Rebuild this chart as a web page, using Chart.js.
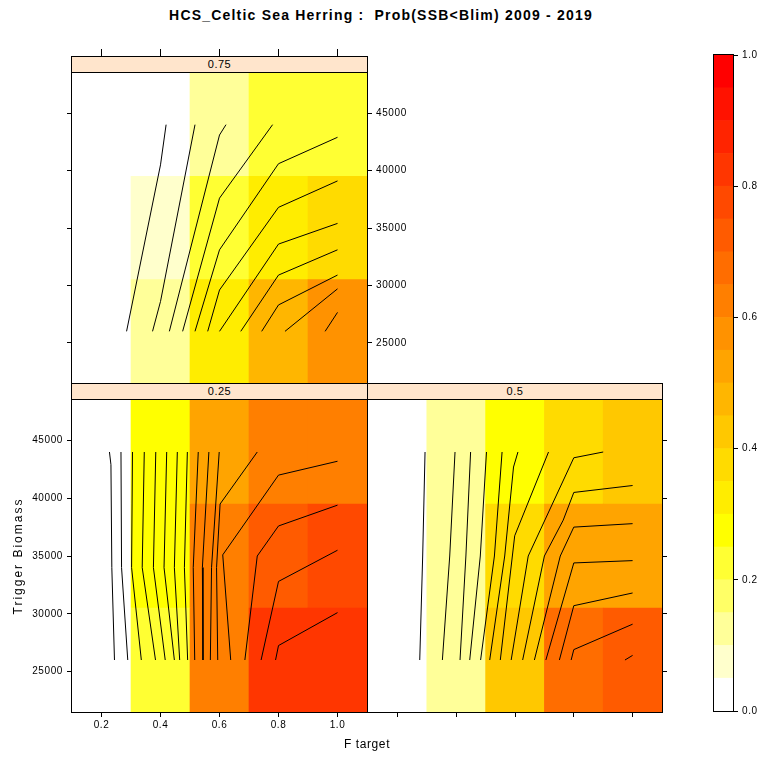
<!DOCTYPE html>
<html>
<head>
<meta charset="utf-8">
<script src="https://cdn.jsdelivr.net/npm/chart.js@4.4.1/dist/chart.umd.min.js"></script>
<style>
  body { margin: 0; background: #fff; }
  #wrap { position: relative; width: 762px; height: 758px; overflow: hidden; font-family: "Liberation Sans", Arial, sans-serif; color: #000; }
  canvas { position: absolute; }
  .strip { position: absolute; box-sizing: border-box; height: 17px; background: #ffe5cc; border: 1px solid #000; font-size: 11px; line-height: 15px; text-align: center; letter-spacing: 0.5px; z-index: 2; }
  .lbl { position: absolute; white-space: pre; text-align: center; }
</style>
</head>
<body>
<div id="wrap">
  <canvas id="p075" width="389" height="358" style="left:50px;top:37px"></canvas>
  <canvas id="p025" width="379" height="361" style="left:0px;top:388px"></canvas>
  <canvas id="p05" width="328" height="346" style="left:356px;top:388px"></canvas>
  <canvas id="key" width="73" height="680" style="left:702px;top:43px"></canvas>

  <div class="strip" style="left:71px;top:56px;width:297px">0.75</div>
  <div class="strip" style="left:71px;top:383px;width:297px">0.25</div>
  <div class="strip" style="left:367px;top:383px;width:296px">0.5</div>

  <div class="lbl" style="left:0;top:7px;width:762px;font-size:14px;font-weight:bold;line-height:16px;letter-spacing:1.2px">HCS_Celtic Sea Herring :  Prob(SSB&lt;Blim) 2009 - 2019</div>
  <div class="lbl" style="left:267px;top:737px;width:200px;font-size:12px;line-height:14px;letter-spacing:0.6px">F target</div>
  <div class="lbl" style="left:-82px;top:548px;width:200px;font-size:12px;line-height:16px;letter-spacing:2px;transform:rotate(-90deg)">Trigger Biomass</div>
</div>

<script>
// grid of the levelplot
const fTarget = [0.2, 0.4, 0.6, 0.8, 1.0];
const trigger = [26000, 35000, 44000];
const xTicks = [0.2, 0.4, 0.6, 0.8, 1.0];
const yTicks = [25000, 30000, 35000, 40000, 45000];
const keyTicks = [0.0, 0.2, 0.4, 0.6, 0.8, 1.0];
const levels = [0, 0.05, 0.1, 0.15, 0.2, 0.25, 0.3, 0.35, 0.4, 0.45, 0.5,
  0.55, 0.6, 0.65, 0.7, 0.75, 0.8, 0.85, 0.9, 0.95, 1.0];

// Prob(SSB<Blim), one row per trigger biomass (26000, 35000, 44000)
const prob075 = [
  [0.01, 0.11, 0.34, 0.48, 0.56],
  [0.01, 0.07, 0.22, 0.33, 0.37],
  [0.01, 0.04, 0.14, 0.22, 0.24],
];
const prob025 = [
  [0.02, 0.23, 0.61, 0.80, 0.84],
  [0.02, 0.27, 0.62, 0.73, 0.76],
  [0.02, 0.28, 0.54, 0.63, 0.64],
];
const prob05 = [
  [0.02, 0.13, 0.42, 0.66, 0.71],
  [0.02, 0.12, 0.37, 0.54, 0.54],
  [0.02, 0.10, 0.29, 0.39, 0.43],
];

// contour lines, [F target, trigger biomass] vertices
const cont075 = [
  [[0.285, 26000], [0.4, 40500], [0.419, 44000]],
  [[0.373, 26000], [0.4, 28600], [0.517, 44000]],
  [[0.43, 26000], [0.6, 43100], [0.622, 44000]],
  [[0.475, 26000], [0.6, 37600], [0.78, 44000]],
  [[0.517, 26000], [0.6, 33100], [0.8, 40600], [1.0, 42900]],
  [[0.56, 26000], [0.6, 29600], [0.8, 36800], [1.0, 39100]],
  [[0.6, 26000], [0.8, 33600], [1.0, 35400]],
  [[0.672, 26000], [0.8, 30900], [1.0, 33100]],
  [[0.743, 26000], [0.8, 28300], [1.0, 30900]],
  [[0.822, 26000], [1.0, 29700]],
  [[0.958, 26000], [1.0, 27650]],
];
const cont025 = [
  [[0.227, 44000], [0.232, 42900], [0.235, 34000], [0.244, 26000]],
  [[0.266, 44000], [0.268, 34000], [0.289, 26000]],
  [[0.305, 44000], [0.302, 34000], [0.335, 26000]],
  [[0.345, 44000], [0.338, 34000], [0.383, 26000]],
  [[0.384, 44000], [0.376, 34000], [0.416, 26000]],
  [[0.421, 44000], [0.412, 34000], [0.447, 26000]],
  [[0.457, 44000], [0.447, 34000], [0.465, 26000]],
  [[0.491, 44000], [0.481, 34000], [0.492, 26000]],
  [[0.528, 44000], [0.511, 34000], [0.516, 26000]],
  [[0.564, 44000], [0.542, 34000], [0.544, 26000]],
  [[0.599, 44000], [0.573, 34000], [0.569, 26000]],
  [[0.728, 44000], [0.602, 39500], [0.59, 34000], [0.594, 26000]],
  [[1.0, 43200], [0.8, 42000], [0.611, 35100], [0.638, 26000]],
  [[1.0, 39400], [0.8, 37600], [0.728, 35000], [0.686, 26000]],
  [[1.0, 35500], [0.8, 32800], [0.741, 26000]],
  [[1.0, 30100], [0.8, 27250], [0.79, 26000]],
];
const cont05 = [
  [[0.294, 44000], [0.286, 35000], [0.276, 26000]],
  [[0.396, 44000], [0.378, 35000], [0.353, 26000]],
  [[0.449, 44000], [0.433, 35000], [0.413, 26000]],
  [[0.503, 44000], [0.482, 35000], [0.446, 26000]],
  [[0.556, 44000], [0.53, 35000], [0.483, 26000]],
  [[0.61, 44000], [0.595, 42700], [0.565, 35000], [0.514, 26000]],
  [[0.714, 44000], [0.599, 36750], [0.55, 26000]],
  [[0.9, 44000], [0.8, 43500], [0.645, 35000], [0.587, 26000]],
  [[1.0, 41100], [0.8, 40500], [0.764, 38100], [0.7, 35000], [0.626, 26000]],
  [[1.0, 37800], [0.8, 37500], [0.754, 35000], [0.666, 26000]],
  [[1.0, 34600], [0.8, 34400], [0.705, 26000]],
  [[1.0, 31800], [0.8, 30700], [0.751, 26000]],
  [[1.0, 29100], [0.8, 26900], [0.791, 26000]],
  [[1.0, 26400], [0.974, 26000]],
];

// white -> yellow -> red, one colour per level band
const palette = [
  "#FFFFFF", "#FFFFCC", "#FFFF99", "#FFFF66", "#FFFF33", "#FFFF00", "#FFED00",
  "#FFDB00", "#FFC800", "#FFB600", "#FFA400", "#FF9200", "#FF7F00", "#FF6D00",
  "#FF5B00", "#FF4900", "#FF3600", "#FF2400", "#FF1200", "#FF0000",
];

const colourFor = (v) => {
  for (let i = 0; i < palette.length; i++) {
    if (v < levels[i + 1]) return palette[i];
  }
  return palette[palette.length - 1];
};

Chart.defaults.font.family = '"Liberation Sans", Arial, sans-serif';
Chart.defaults.font.size = 10;
Chart.defaults.color = "#000";

const PAD = 12;
const halfRow = (trigger[1] - trigger[0]) / 2;
const halfCol = (fTarget[1] - fTarget[0]) / 2;

// black box round the plotting region
const frame = {
  id: "frame",
  afterDraw(chart) {
    const a = chart.chartArea;
    const ctx = chart.ctx;
    ctx.save();
    ctx.strokeStyle = "#000";
    ctx.lineWidth = 1;
    ctx.strokeRect(a.left - 0.5, a.top - 0.5, a.right - a.left + 1, a.bottom - a.top + 1);
    ctx.restore();
  },
};
const spacing = {
  id: "spacing",
  beforeDraw(chart) {
    chart.ctx.letterSpacing = "0.6px";
  },
};

const axis = (pos, size, labels, tickLength) => {
  const horiz = pos === "top" || pos === "bottom";
  return {
    type: "linear",
    position: pos,
    min: horiz ? fTarget[0] - halfCol : trigger[0] - halfRow,
    max: horiz ? fTarget[fTarget.length - 1] + halfCol : trigger[trigger.length - 1] + halfRow,
    offset: false,
    afterBuildTicks: (s) => {
      s.ticks = (horiz ? xTicks : yTicks).map((v) => ({ value: v }));
    },
    afterFit: (s) => {
      if (horiz) s.height = size;
      else s.width = size;
    },
    ticks: {
      color: labels ? "#000" : "rgba(0,0,0,0)",
      padding: horiz ? 2 : 4,
      maxRotation: 0,
      autoSkip: false,
      callback: (v) => (horiz ? v.toFixed(1) : String(v)),
    },
    grid: {
      drawOnChartArea: false,
      drawTicks: true,
      tickLength: tickLength,
      color: "#000",
      offset: false,
    },
    border: { display: false },
  };
};

const panel = (id, prob, lines, scales) => {
  const cells = trigger.map((t, r) => ({
    type: "bar",
    data: fTarget.map((f) => ({ x: f, y: [t - halfRow, t + halfRow] })),
    backgroundColor: prob[r].map(colourFor),
    borderWidth: 0,
    barPercentage: 1,
    categoryPercentage: 1,
    grouped: false,
    order: 2,
  }));
  const contours = lines.map((l) => ({
    type: "line",
    data: l.map((p) => ({ x: p[0], y: p[1] })),
    borderColor: "#000",
    borderWidth: 1,
    pointRadius: 0,
    fill: false,
    tension: 0,
    order: 1,
  }));
  new Chart(document.getElementById(id), {
    type: "bar",
    data: { datasets: [...cells, ...contours] },
    options: {
      responsive: false,
      animation: false,
      devicePixelRatio: 1,
      events: [],
      layout: { padding: PAD },
      plugins: { legend: { display: false }, tooltip: { enabled: false } },
      scales: scales,
    },
    plugins: [frame, spacing],
  });
};

panel("p075", prob075, cont075, {
  x: axis("top", 24, false, 24),
  y: axis("right", 60, true, 5),
  yl: axis("left", 10, false, 5),
});
panel("p025", prob025, cont025, {
  x: axis("bottom", 25, true, 5),
  y: axis("left", 60, true, 5),
});
panel("p05", prob05, cont05, {
  x: axis("bottom", 10, false, 5),
  y: axis("right", 10, false, 5),
});

// colour key
new Chart(document.getElementById("key"), {
  type: "bar",
  data: {
    labels: [""],
    datasets: palette.map((c, i) => ({
      data: [[levels[i], levels[i + 1]]],
      backgroundColor: c,
      borderWidth: 0,
      barPercentage: 1,
      categoryPercentage: 1,
      grouped: false,
    })),
  },
  options: {
    responsive: false,
    animation: false,
    devicePixelRatio: 1,
    events: [],
    layout: { padding: PAD },
    plugins: { legend: { display: false }, tooltip: { enabled: false } },
    scales: {
      x: { display: false },
      y: {
        position: "right",
        min: 0,
        max: 1,
        afterBuildTicks: (s) => {
          s.ticks = keyTicks.map((v) => ({ value: v }));
        },
        afterFit: (s) => {
          s.width = 30;
        },
        ticks: { padding: 4, callback: (v) => v.toFixed(1) },
        grid: { drawOnChartArea: false, drawTicks: true, tickLength: 5, color: "#000" },
        border: { display: false },
      },
    },
  },
  plugins: [frame, spacing],
});
</script>
</body>
</html>
